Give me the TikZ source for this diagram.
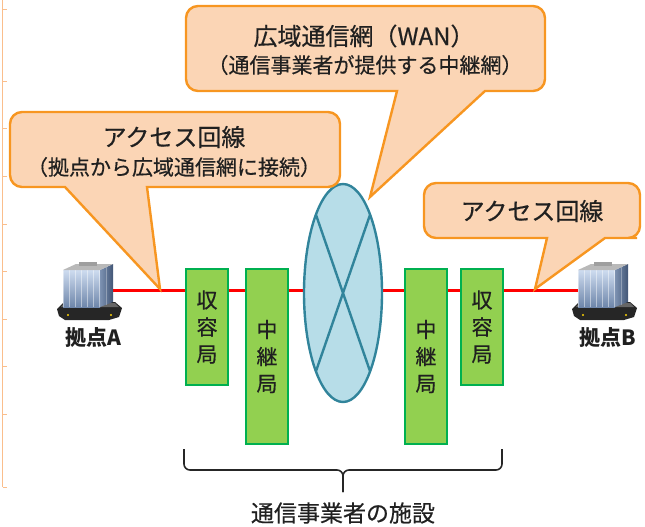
\documentclass[tikz,border=0pt]{standalone}
\usepackage{fontspec}
\newfontfamily\jpfont{Noto Sans CJK JP}[UprightFeatures={FakeBold=0.5}]
\usetikzlibrary{shapes.geometric}

\definecolor{calloutfill}{RGB}{251,213,181}
\definecolor{calloutline}{RGB}{247,150,33}
\definecolor{boxfill}{RGB}{146,208,80}
\definecolor{boxline}{RGB}{0,176,80}
\definecolor{wanfill}{RGB}{183,221,232}
\definecolor{wanline}{RGB}{49,132,155}
\definecolor{rulerline}{RGB}{250,190,140}
\definecolor{textgray}{RGB}{32,32,32}
\definecolor{glasstop}{RGB}{206,220,240}
\definecolor{glassbot}{RGB}{110,134,170}
\definecolor{sidelight}{RGB}{125,146,178}
\definecolor{sidedark}{RGB}{66,86,118}

\begin{document}
\begin{tikzpicture}[x=1pt,y=-1pt]
\tikzset{every node/.style={text=textgray,inner sep=0pt},
	big/.style={font=\jpfont\fontsize{24}{28}\selectfont},
	small/.style={font=\jpfont\fontsize{21}{25}\selectfont},
	sitelabel/.style={font=\jpfont\bfseries\fontsize{21}{25}\selectfont},
	bubble/.style={fill=calloutfill,draw=calloutline,line width=2.4pt,line join=miter},
	station/.style={draw=boxline,fill=boxfill,line width=2pt,minimum width=42pt,
		anchor=north west,align=center,font=\jpfont\fontsize{21}{27}\selectfont},
	office/.pic={
		% platform
		\fill[black!85] (0,47) -- (7,40) -- (58,40) -- (65,46) -- (62,55) -- (52,58) -- (8,58) -- (2,54) -- cycle;
		\fill[black!60] (7,41) -- (58,41) -- (62,45) -- (4,45) -- cycle;
		\fill[yellow!70!orange] (11,53) circle (1.2) (54,53) circle (1.2);
		% glass block
		\shade[top color=glasstop,bottom color=glassbot] (6,8) rectangle (43,45);
		\draw[white,opacity=.45,line width=.5pt] (6,8) grid[step=6] (43,45);
		\shade[left color=sidelight,right color=sidedark] (43,8) -- (56,2) -- (56,40) -- (43,45) -- cycle;
		\draw[white,opacity=.3,line width=.5pt] (49.5,5) -- (49.5,42.5);
		\fill[gray!55] (6,8) -- (19,2) -- (56,2) -- (43,8) -- cycle;
		\fill[gray!75] (22,0) rectangle (40,4);
	}}
\useasboundingbox (0,0) rectangle (645,527);

% ruler left over at the page edge
\draw[rulerline,line width=1.4pt] (2.5,0) -- (2.5,487);
\foreach \t in {10,81,128,176,224,271,319,366,414,487}
	\draw[rulerline,line width=1pt] (2.5,\t) -- (6.5,\t);

% access line between the two sites
\coordinate (lineA) at (110,290);
\coordinate (lineB) at (580,290);
\draw[red,line width=3pt] (lineA) -- (lineB);

% sites
\pic (bldA) at (57,262) {office};
\pic (bldB) at (572,262) {office};
\node[sitelabel] (siteA) at (93,338) {拠点A};
\node[sitelabel] (siteB) at (608,338) {拠点B};

% carrier offices
\node[station,minimum height=116pt] (accA) at (185,268) {収\\容\\局};
\node[station,minimum height=175pt] (relA) at (245,268) {中\\継\\局};
\node[station,minimum height=175pt] (relB) at (404,268) {中\\継\\局};
\node[station,minimum height=116pt] (accB) at (460,268) {収\\容\\局};

% wide area network
\node[ellipse,draw=wanline,fill=wanfill,line width=2.4pt,
	minimum width=78pt,minimum height=218pt] (wan) at (343,293) {};
\foreach \a in {46,134,226,314}
	\path (wan.center) ++(\a:39 and 109) coordinate (wan\a);
\draw[wanline,line width=2.4pt] (wan46) -- (wan226) (wan134) -- (wan314);

% callouts
\filldraw[bubble] (40,187) [rounded corners=12pt] -- (10,187) -- (10,112) -- (340,112)
	-- (340,187) -- (250,187) [sharp corners] -- (147,187) -- (160,289) -- (65,187) -- cycle;
\filldraw[bubble] (220,91) [rounded corners=12pt] -- (186,91) -- (186,6) -- (545,6)
	-- (545,91) -- (515,91) [sharp corners] -- (485,91) -- (370,197) -- (397,91) -- cycle;
\filldraw[bubble] (450,238) [rounded corners=12pt] -- (424,238) -- (424,183) -- (640,183)
	-- (640,238) -- (625,238) [sharp corners] -- (605,238) -- (535,289) -- (547,238) -- cycle;

\node[big] (accTitleA) at (174,137) {アクセス回線};
\node[small] (accNoteA) at (174,167) {（拠点から広域通信網に接続）};
\node[big] (wanTitle) at (364,36) {広域通信網（WAN）};
\node[small] (wanNote) at (365,65) {（通信事業者が提供する中継網）};
\node[big] (accTitleB) at (532,211) {アクセス回線};

% carrier facilities
\coordinate (braceL) at (184,449);
\coordinate (braceR) at (502,449);
\coordinate (braceM) at (343,470);
\coordinate (braceT) at (343,492);
\draw[black!85,line width=1.6pt,rounded corners=6pt] (braceL) |- (braceM) -- (braceT);
\draw[black!85,line width=1.6pt,rounded corners=6pt] (braceR) |- (braceM) -- (braceT);
\node[font=\jpfont\fontsize{23}{27}\selectfont] (facility) at (343,513) {通信事業者の施設};
\end{tikzpicture}
\end{document}
